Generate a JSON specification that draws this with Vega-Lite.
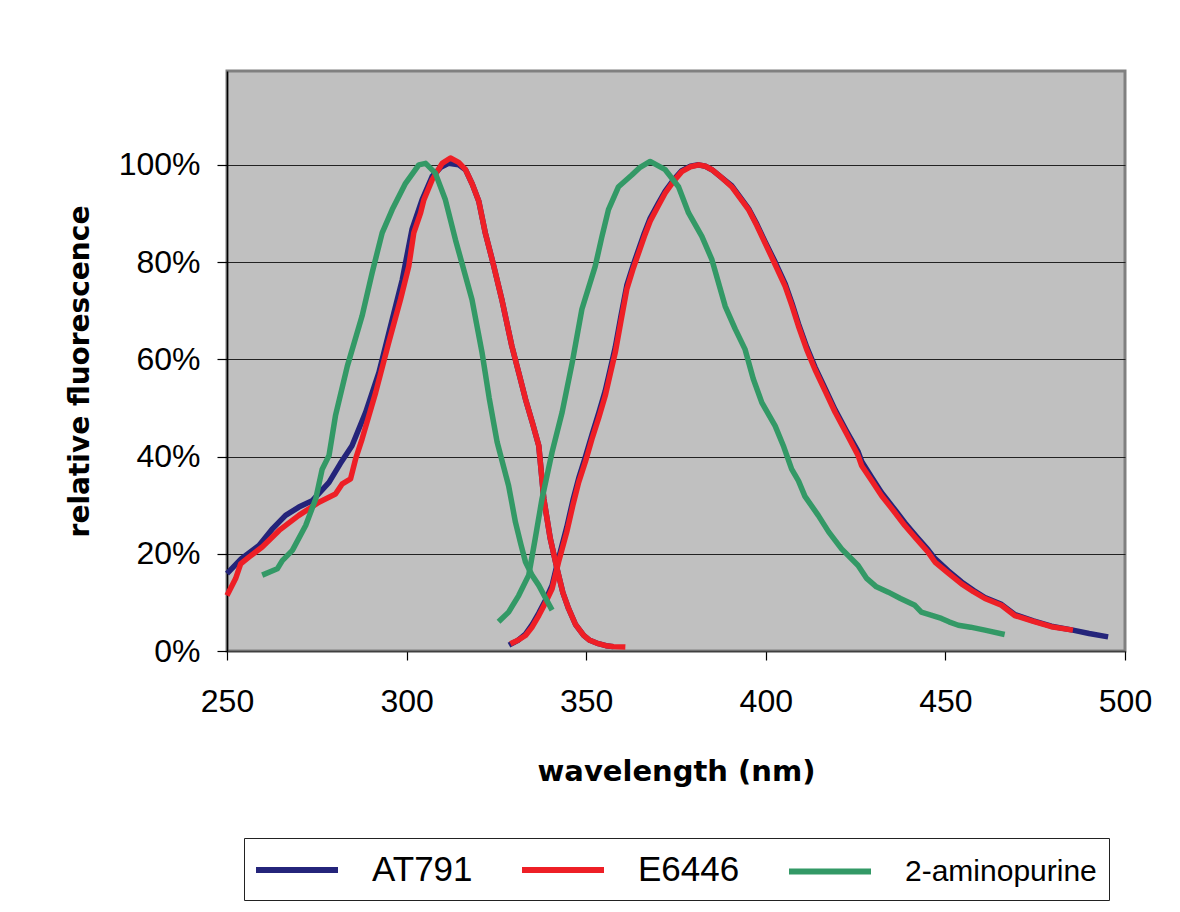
{
  "$schema": "https://vega.github.io/schema/vega-lite/v6.json",
  "autosize": {"type": "none"},
  "padding": {"left": 227, "top": 71, "right": 55, "bottom": 261},
  "width": 898,
  "height": 580,
  "background": "white",
  "config": {
    "view": {"fill": "#c0c0c0", "stroke": "#808080", "strokeWidth": 3},
    "axis": {
      "labelFont": "Liberation Sans",
      "labelFontSize": 32,
      "labelColor": "black",
      "titleFont": "DejaVu Sans",
      "titleFontWeight": "bold",
      "titleFontSize": 28,
      "titleColor": "black",
      "tickColor": "black",
      "domainColor": "black"
    }
  },
  "data": {
    "values": [
      {"s": "AT791", "g": "a", "w": 250, "v": 0.159},
      {"s": "AT791", "g": "a", "w": 254, "v": 0.19},
      {"s": "AT791", "g": "a", "w": 258.9, "v": 0.217},
      {"s": "AT791", "g": "a", "w": 262.5, "v": 0.25},
      {"s": "AT791", "g": "a", "w": 266.3, "v": 0.279},
      {"s": "AT791", "g": "a", "w": 270, "v": 0.296},
      {"s": "AT791", "g": "a", "w": 273.7, "v": 0.309},
      {"s": "AT791", "g": "a", "w": 278.4, "v": 0.347},
      {"s": "AT791", "g": "a", "w": 281.5, "v": 0.385},
      {"s": "AT791", "g": "a", "w": 284.8, "v": 0.422},
      {"s": "AT791", "g": "a", "w": 288.6, "v": 0.491},
      {"s": "AT791", "g": "a", "w": 292.3, "v": 0.573},
      {"s": "AT791", "g": "a", "w": 296, "v": 0.682},
      {"s": "AT791", "g": "a", "w": 298.8, "v": 0.764},
      {"s": "AT791", "g": "a", "w": 301.5, "v": 0.867},
      {"s": "AT791", "g": "a", "w": 304.3, "v": 0.928},
      {"s": "AT791", "g": "a", "w": 307.1, "v": 0.976},
      {"s": "AT791", "g": "a", "w": 309.5, "v": 0.995},
      {"s": "AT791", "g": "a", "w": 311.7, "v": 1.003},
      {"s": "AT791", "g": "a", "w": 314.5, "v": 1.0},
      {"s": "AT791", "g": "a", "w": 316.4, "v": 0.99},
      {"s": "AT791", "g": "a", "w": 318.3, "v": 0.96},
      {"s": "AT791", "g": "a", "w": 320.1, "v": 0.925},
      {"s": "AT791", "g": "a", "w": 321.9, "v": 0.86},
      {"s": "AT791", "g": "a", "w": 324, "v": 0.8},
      {"s": "AT791", "g": "a", "w": 326.6, "v": 0.72},
      {"s": "AT791", "g": "a", "w": 329.3, "v": 0.627},
      {"s": "AT791", "g": "a", "w": 331.2, "v": 0.573},
      {"s": "AT791", "g": "a", "w": 333.1, "v": 0.518},
      {"s": "AT791", "g": "a", "w": 335, "v": 0.47},
      {"s": "AT791", "g": "a", "w": 336.8, "v": 0.422},
      {"s": "AT791", "g": "a", "w": 338.2, "v": 0.313},
      {"s": "AT791", "g": "a", "w": 340, "v": 0.231},
      {"s": "AT791", "g": "a", "w": 341.9, "v": 0.169},
      {"s": "AT791", "g": "a", "w": 343.5, "v": 0.12},
      {"s": "AT791", "g": "a", "w": 345.1, "v": 0.087},
      {"s": "AT791", "g": "a", "w": 347, "v": 0.055},
      {"s": "AT791", "g": "a", "w": 349.3, "v": 0.032},
      {"s": "AT791", "g": "a", "w": 351, "v": 0.022},
      {"s": "AT791", "g": "a", "w": 353.4, "v": 0.015},
      {"s": "AT791", "g": "a", "w": 355.5, "v": 0.011},
      {"s": "AT791", "g": "a", "w": 357.6, "v": 0.009},
      {"s": "AT791", "g": "b", "w": 328.5, "v": 0.012},
      {"s": "AT791", "g": "b", "w": 331, "v": 0.022},
      {"s": "AT791", "g": "b", "w": 333.1, "v": 0.035},
      {"s": "AT791", "g": "b", "w": 335, "v": 0.055},
      {"s": "AT791", "g": "b", "w": 336.8, "v": 0.078},
      {"s": "AT791", "g": "b", "w": 338.7, "v": 0.105},
      {"s": "AT791", "g": "b", "w": 340.5, "v": 0.135},
      {"s": "AT791", "g": "b", "w": 342.3, "v": 0.19},
      {"s": "AT791", "g": "b", "w": 344.6, "v": 0.255},
      {"s": "AT791", "g": "b", "w": 346.3, "v": 0.31},
      {"s": "AT791", "g": "b", "w": 347.9, "v": 0.355},
      {"s": "AT791", "g": "b", "w": 349.8, "v": 0.4},
      {"s": "AT791", "g": "b", "w": 351.6, "v": 0.445},
      {"s": "AT791", "g": "b", "w": 353.5, "v": 0.49},
      {"s": "AT791", "g": "b", "w": 355.3, "v": 0.535},
      {"s": "AT791", "g": "b", "w": 356.7, "v": 0.58},
      {"s": "AT791", "g": "b", "w": 358.1, "v": 0.625},
      {"s": "AT791", "g": "b", "w": 359.7, "v": 0.69},
      {"s": "AT791", "g": "b", "w": 361.3, "v": 0.752},
      {"s": "AT791", "g": "b", "w": 363, "v": 0.792},
      {"s": "AT791", "g": "b", "w": 364.6, "v": 0.826},
      {"s": "AT791", "g": "b", "w": 366.2, "v": 0.86},
      {"s": "AT791", "g": "b", "w": 367.8, "v": 0.89},
      {"s": "AT791", "g": "b", "w": 370, "v": 0.92},
      {"s": "AT791", "g": "b", "w": 372, "v": 0.946},
      {"s": "AT791", "g": "b", "w": 374.3, "v": 0.969},
      {"s": "AT791", "g": "b", "w": 376.6, "v": 0.988},
      {"s": "AT791", "g": "b", "w": 379, "v": 0.997},
      {"s": "AT791", "g": "b", "w": 381.3, "v": 1.0},
      {"s": "AT791", "g": "b", "w": 383.2, "v": 0.997},
      {"s": "AT791", "g": "b", "w": 385, "v": 0.99},
      {"s": "AT791", "g": "b", "w": 387.8, "v": 0.973},
      {"s": "AT791", "g": "b", "w": 390.5, "v": 0.957},
      {"s": "AT791", "g": "b", "w": 392.8, "v": 0.934},
      {"s": "AT791", "g": "b", "w": 395.2, "v": 0.91},
      {"s": "AT791", "g": "b", "w": 397.5, "v": 0.878},
      {"s": "AT791", "g": "b", "w": 399.8, "v": 0.842},
      {"s": "AT791", "g": "b", "w": 402.6, "v": 0.8},
      {"s": "AT791", "g": "b", "w": 405.4, "v": 0.755},
      {"s": "AT791", "g": "b", "w": 407.3, "v": 0.715},
      {"s": "AT791", "g": "b", "w": 409.1, "v": 0.673},
      {"s": "AT791", "g": "b", "w": 411.4, "v": 0.625},
      {"s": "AT791", "g": "b", "w": 413.7, "v": 0.584},
      {"s": "AT791", "g": "b", "w": 416.5, "v": 0.54},
      {"s": "AT791", "g": "b", "w": 419.3, "v": 0.496},
      {"s": "AT791", "g": "b", "w": 422.5, "v": 0.452},
      {"s": "AT791", "g": "b", "w": 425.7, "v": 0.41},
      {"s": "AT791", "g": "b", "w": 426.7, "v": 0.39},
      {"s": "AT791", "g": "b", "w": 429.5, "v": 0.357},
      {"s": "AT791", "g": "b", "w": 432.2, "v": 0.326},
      {"s": "AT791", "g": "b", "w": 435.5, "v": 0.295},
      {"s": "AT791", "g": "b", "w": 438.7, "v": 0.264},
      {"s": "AT791", "g": "b", "w": 442, "v": 0.235},
      {"s": "AT791", "g": "b", "w": 445.2, "v": 0.208},
      {"s": "AT791", "g": "b", "w": 447.1, "v": 0.19},
      {"s": "AT791", "g": "b", "w": 450.8, "v": 0.165},
      {"s": "AT791", "g": "b", "w": 454.5, "v": 0.142},
      {"s": "AT791", "g": "b", "w": 457.8, "v": 0.125},
      {"s": "AT791", "g": "b", "w": 461, "v": 0.11},
      {"s": "AT791", "g": "b", "w": 465.6, "v": 0.096},
      {"s": "AT791", "g": "b", "w": 469.3, "v": 0.075},
      {"s": "AT791", "g": "b", "w": 474.5, "v": 0.062},
      {"s": "AT791", "g": "b", "w": 479.5, "v": 0.051},
      {"s": "AT791", "g": "b", "w": 485.5, "v": 0.043},
      {"s": "AT791", "g": "b", "w": 490, "v": 0.036},
      {"s": "AT791", "g": "b", "w": 495.3, "v": 0.029},

      {"s": "E6446", "g": "a", "w": 250, "v": 0.114},
      {"s": "E6446", "g": "a", "w": 252.4, "v": 0.149},
      {"s": "E6446", "g": "a", "w": 253.8, "v": 0.179},
      {"s": "E6446", "g": "a", "w": 256.1, "v": 0.193},
      {"s": "E6446", "g": "a", "w": 259.8, "v": 0.214},
      {"s": "E6446", "g": "a", "w": 264.5, "v": 0.248},
      {"s": "E6446", "g": "a", "w": 270, "v": 0.279},
      {"s": "E6446", "g": "a", "w": 275.6, "v": 0.306},
      {"s": "E6446", "g": "a", "w": 280.2, "v": 0.323},
      {"s": "E6446", "g": "a", "w": 282.1, "v": 0.344},
      {"s": "E6446", "g": "a", "w": 284.4, "v": 0.354},
      {"s": "E6446", "g": "a", "w": 285.8, "v": 0.395},
      {"s": "E6446", "g": "a", "w": 287.6, "v": 0.436},
      {"s": "E6446", "g": "a", "w": 291.4, "v": 0.532},
      {"s": "E6446", "g": "a", "w": 295, "v": 0.634},
      {"s": "E6446", "g": "a", "w": 298.3, "v": 0.723},
      {"s": "E6446", "g": "a", "w": 300.6, "v": 0.791},
      {"s": "E6446", "g": "a", "w": 302, "v": 0.86},
      {"s": "E6446", "g": "a", "w": 303.9, "v": 0.901},
      {"s": "E6446", "g": "a", "w": 304.8, "v": 0.928},
      {"s": "E6446", "g": "a", "w": 307.1, "v": 0.969},
      {"s": "E6446", "g": "a", "w": 309.9, "v": 1.003},
      {"s": "E6446", "g": "a", "w": 312.2, "v": 1.014},
      {"s": "E6446", "g": "a", "w": 314.5, "v": 1.005},
      {"s": "E6446", "g": "a", "w": 316.4, "v": 0.99},
      {"s": "E6446", "g": "a", "w": 318.3, "v": 0.96},
      {"s": "E6446", "g": "a", "w": 320.1, "v": 0.925},
      {"s": "E6446", "g": "a", "w": 321.9, "v": 0.86},
      {"s": "E6446", "g": "a", "w": 324, "v": 0.8},
      {"s": "E6446", "g": "a", "w": 326.6, "v": 0.72},
      {"s": "E6446", "g": "a", "w": 329.3, "v": 0.627},
      {"s": "E6446", "g": "a", "w": 331.2, "v": 0.573},
      {"s": "E6446", "g": "a", "w": 333.1, "v": 0.518},
      {"s": "E6446", "g": "a", "w": 335, "v": 0.47},
      {"s": "E6446", "g": "a", "w": 336.8, "v": 0.422},
      {"s": "E6446", "g": "a", "w": 338.2, "v": 0.313},
      {"s": "E6446", "g": "a", "w": 340, "v": 0.231},
      {"s": "E6446", "g": "a", "w": 341.9, "v": 0.169},
      {"s": "E6446", "g": "a", "w": 343.5, "v": 0.12},
      {"s": "E6446", "g": "a", "w": 345.1, "v": 0.087},
      {"s": "E6446", "g": "a", "w": 347, "v": 0.055},
      {"s": "E6446", "g": "a", "w": 349.3, "v": 0.032},
      {"s": "E6446", "g": "a", "w": 351, "v": 0.022},
      {"s": "E6446", "g": "a", "w": 353.4, "v": 0.015},
      {"s": "E6446", "g": "a", "w": 355.5, "v": 0.011},
      {"s": "E6446", "g": "a", "w": 357.6, "v": 0.009},
      {"s": "E6446", "g": "a", "w": 360.9, "v": 0.008},
      {"s": "E6446", "g": "b", "w": 328.9, "v": 0.015},
      {"s": "E6446", "g": "b", "w": 331, "v": 0.022},
      {"s": "E6446", "g": "b", "w": 333.1, "v": 0.032},
      {"s": "E6446", "g": "b", "w": 335, "v": 0.05},
      {"s": "E6446", "g": "b", "w": 336.8, "v": 0.073},
      {"s": "E6446", "g": "b", "w": 338.7, "v": 0.1},
      {"s": "E6446", "g": "b", "w": 340.5, "v": 0.128},
      {"s": "E6446", "g": "b", "w": 342.3, "v": 0.183},
      {"s": "E6446", "g": "b", "w": 344.6, "v": 0.245},
      {"s": "E6446", "g": "b", "w": 346.3, "v": 0.3},
      {"s": "E6446", "g": "b", "w": 347.9, "v": 0.347},
      {"s": "E6446", "g": "b", "w": 349.8, "v": 0.39},
      {"s": "E6446", "g": "b", "w": 351.6, "v": 0.436},
      {"s": "E6446", "g": "b", "w": 353.5, "v": 0.48},
      {"s": "E6446", "g": "b", "w": 355.3, "v": 0.525},
      {"s": "E6446", "g": "b", "w": 356.7, "v": 0.57},
      {"s": "E6446", "g": "b", "w": 358.1, "v": 0.614},
      {"s": "E6446", "g": "b", "w": 359.7, "v": 0.68},
      {"s": "E6446", "g": "b", "w": 361.3, "v": 0.744},
      {"s": "E6446", "g": "b", "w": 363, "v": 0.785},
      {"s": "E6446", "g": "b", "w": 364.6, "v": 0.819},
      {"s": "E6446", "g": "b", "w": 366.2, "v": 0.853},
      {"s": "E6446", "g": "b", "w": 367.8, "v": 0.884},
      {"s": "E6446", "g": "b", "w": 370, "v": 0.915},
      {"s": "E6446", "g": "b", "w": 372, "v": 0.942},
      {"s": "E6446", "g": "b", "w": 374.3, "v": 0.966},
      {"s": "E6446", "g": "b", "w": 376.6, "v": 0.986},
      {"s": "E6446", "g": "b", "w": 379, "v": 0.996},
      {"s": "E6446", "g": "b", "w": 381.3, "v": 1.0},
      {"s": "E6446", "g": "b", "w": 383.2, "v": 0.997},
      {"s": "E6446", "g": "b", "w": 385, "v": 0.99},
      {"s": "E6446", "g": "b", "w": 387.8, "v": 0.973},
      {"s": "E6446", "g": "b", "w": 390.5, "v": 0.955},
      {"s": "E6446", "g": "b", "w": 392.8, "v": 0.932},
      {"s": "E6446", "g": "b", "w": 395.2, "v": 0.908},
      {"s": "E6446", "g": "b", "w": 397.5, "v": 0.875},
      {"s": "E6446", "g": "b", "w": 399.8, "v": 0.839},
      {"s": "E6446", "g": "b", "w": 402.6, "v": 0.795},
      {"s": "E6446", "g": "b", "w": 405.4, "v": 0.75},
      {"s": "E6446", "g": "b", "w": 407.3, "v": 0.71},
      {"s": "E6446", "g": "b", "w": 409.1, "v": 0.668},
      {"s": "E6446", "g": "b", "w": 411.4, "v": 0.62},
      {"s": "E6446", "g": "b", "w": 413.7, "v": 0.579},
      {"s": "E6446", "g": "b", "w": 416.5, "v": 0.535},
      {"s": "E6446", "g": "b", "w": 419.3, "v": 0.491},
      {"s": "E6446", "g": "b", "w": 422.5, "v": 0.447},
      {"s": "E6446", "g": "b", "w": 425.7, "v": 0.402},
      {"s": "E6446", "g": "b", "w": 426.7, "v": 0.381},
      {"s": "E6446", "g": "b", "w": 429.5, "v": 0.35},
      {"s": "E6446", "g": "b", "w": 432.2, "v": 0.32},
      {"s": "E6446", "g": "b", "w": 435.5, "v": 0.289},
      {"s": "E6446", "g": "b", "w": 438.7, "v": 0.258},
      {"s": "E6446", "g": "b", "w": 442, "v": 0.23},
      {"s": "E6446", "g": "b", "w": 445.2, "v": 0.203},
      {"s": "E6446", "g": "b", "w": 447.1, "v": 0.183},
      {"s": "E6446", "g": "b", "w": 450.8, "v": 0.16},
      {"s": "E6446", "g": "b", "w": 454.5, "v": 0.138},
      {"s": "E6446", "g": "b", "w": 457.8, "v": 0.122},
      {"s": "E6446", "g": "b", "w": 461, "v": 0.108},
      {"s": "E6446", "g": "b", "w": 465.6, "v": 0.094},
      {"s": "E6446", "g": "b", "w": 469.3, "v": 0.073},
      {"s": "E6446", "g": "b", "w": 474.5, "v": 0.061},
      {"s": "E6446", "g": "b", "w": 479.5, "v": 0.05},
      {"s": "E6446", "g": "b", "w": 485.5, "v": 0.043},

      {"s": "2-aminopurine", "g": "a", "w": 259.8, "v": 0.156},
      {"s": "2-aminopurine", "g": "a", "w": 264, "v": 0.169},
      {"s": "2-aminopurine", "g": "a", "w": 265.4, "v": 0.186},
      {"s": "2-aminopurine", "g": "a", "w": 268.2, "v": 0.207},
      {"s": "2-aminopurine", "g": "a", "w": 271.9, "v": 0.258},
      {"s": "2-aminopurine", "g": "a", "w": 274.7, "v": 0.313},
      {"s": "2-aminopurine", "g": "a", "w": 276.5, "v": 0.374},
      {"s": "2-aminopurine", "g": "a", "w": 278.4, "v": 0.402},
      {"s": "2-aminopurine", "g": "a", "w": 280.2, "v": 0.484},
      {"s": "2-aminopurine", "g": "a", "w": 283.5, "v": 0.586},
      {"s": "2-aminopurine", "g": "a", "w": 287.6, "v": 0.689},
      {"s": "2-aminopurine", "g": "a", "w": 290.4, "v": 0.778},
      {"s": "2-aminopurine", "g": "a", "w": 293.2, "v": 0.86},
      {"s": "2-aminopurine", "g": "a", "w": 296, "v": 0.908},
      {"s": "2-aminopurine", "g": "a", "w": 299.7, "v": 0.962},
      {"s": "2-aminopurine", "g": "a", "w": 303.4, "v": 1.0},
      {"s": "2-aminopurine", "g": "a", "w": 305.3, "v": 1.003},
      {"s": "2-aminopurine", "g": "a", "w": 308, "v": 0.983},
      {"s": "2-aminopurine", "g": "a", "w": 310.8, "v": 0.928},
      {"s": "2-aminopurine", "g": "a", "w": 313.6, "v": 0.846},
      {"s": "2-aminopurine", "g": "a", "w": 318.2, "v": 0.723},
      {"s": "2-aminopurine", "g": "a", "w": 321, "v": 0.614},
      {"s": "2-aminopurine", "g": "a", "w": 323, "v": 0.52},
      {"s": "2-aminopurine", "g": "a", "w": 325.2, "v": 0.43},
      {"s": "2-aminopurine", "g": "a", "w": 328.4, "v": 0.34},
      {"s": "2-aminopurine", "g": "a", "w": 330.3, "v": 0.265},
      {"s": "2-aminopurine", "g": "a", "w": 331.8, "v": 0.22},
      {"s": "2-aminopurine", "g": "a", "w": 333.1, "v": 0.183},
      {"s": "2-aminopurine", "g": "a", "w": 335, "v": 0.155},
      {"s": "2-aminopurine", "g": "a", "w": 336.8, "v": 0.135},
      {"s": "2-aminopurine", "g": "a", "w": 338.6, "v": 0.11},
      {"s": "2-aminopurine", "g": "a", "w": 340.5, "v": 0.084},
      {"s": "2-aminopurine", "g": "b", "w": 325.6, "v": 0.06},
      {"s": "2-aminopurine", "g": "b", "w": 328.4, "v": 0.08},
      {"s": "2-aminopurine", "g": "b", "w": 331.2, "v": 0.114},
      {"s": "2-aminopurine", "g": "b", "w": 334, "v": 0.156},
      {"s": "2-aminopurine", "g": "b", "w": 335.8, "v": 0.231},
      {"s": "2-aminopurine", "g": "b", "w": 337.7, "v": 0.313},
      {"s": "2-aminopurine", "g": "b", "w": 340.5, "v": 0.409},
      {"s": "2-aminopurine", "g": "b", "w": 343.3, "v": 0.491},
      {"s": "2-aminopurine", "g": "b", "w": 346.1, "v": 0.593},
      {"s": "2-aminopurine", "g": "b", "w": 348.8, "v": 0.703},
      {"s": "2-aminopurine", "g": "b", "w": 352.5, "v": 0.791},
      {"s": "2-aminopurine", "g": "b", "w": 354.3, "v": 0.85},
      {"s": "2-aminopurine", "g": "b", "w": 356.2, "v": 0.908},
      {"s": "2-aminopurine", "g": "b", "w": 359, "v": 0.955},
      {"s": "2-aminopurine", "g": "b", "w": 362.7, "v": 0.979},
      {"s": "2-aminopurine", "g": "b", "w": 365, "v": 0.995},
      {"s": "2-aminopurine", "g": "b", "w": 367.8, "v": 1.007},
      {"s": "2-aminopurine", "g": "b", "w": 372, "v": 0.99},
      {"s": "2-aminopurine", "g": "b", "w": 375.7, "v": 0.955},
      {"s": "2-aminopurine", "g": "b", "w": 378.5, "v": 0.901},
      {"s": "2-aminopurine", "g": "b", "w": 382.2, "v": 0.853},
      {"s": "2-aminopurine", "g": "b", "w": 385, "v": 0.805},
      {"s": "2-aminopurine", "g": "b", "w": 388.7, "v": 0.709},
      {"s": "2-aminopurine", "g": "b", "w": 391.5, "v": 0.662},
      {"s": "2-aminopurine", "g": "b", "w": 394.2, "v": 0.621},
      {"s": "2-aminopurine", "g": "b", "w": 396.5, "v": 0.56},
      {"s": "2-aminopurine", "g": "b", "w": 398.9, "v": 0.511},
      {"s": "2-aminopurine", "g": "b", "w": 402.6, "v": 0.463},
      {"s": "2-aminopurine", "g": "b", "w": 405, "v": 0.42},
      {"s": "2-aminopurine", "g": "b", "w": 407.2, "v": 0.374},
      {"s": "2-aminopurine", "g": "b", "w": 409.1, "v": 0.35},
      {"s": "2-aminopurine", "g": "b", "w": 410.9, "v": 0.318},
      {"s": "2-aminopurine", "g": "b", "w": 414.6, "v": 0.279},
      {"s": "2-aminopurine", "g": "b", "w": 417.5, "v": 0.245},
      {"s": "2-aminopurine", "g": "b", "w": 421.1, "v": 0.21},
      {"s": "2-aminopurine", "g": "b", "w": 425.7, "v": 0.176},
      {"s": "2-aminopurine", "g": "b", "w": 428, "v": 0.15},
      {"s": "2-aminopurine", "g": "b", "w": 430.8, "v": 0.132},
      {"s": "2-aminopurine", "g": "b", "w": 434.1, "v": 0.121},
      {"s": "2-aminopurine", "g": "b", "w": 437.5, "v": 0.108},
      {"s": "2-aminopurine", "g": "b", "w": 441.5, "v": 0.094},
      {"s": "2-aminopurine", "g": "b", "w": 443.3, "v": 0.08},
      {"s": "2-aminopurine", "g": "b", "w": 446, "v": 0.074},
      {"s": "2-aminopurine", "g": "b", "w": 448.9, "v": 0.067},
      {"s": "2-aminopurine", "g": "b", "w": 451, "v": 0.06},
      {"s": "2-aminopurine", "g": "b", "w": 453.6, "v": 0.053},
      {"s": "2-aminopurine", "g": "b", "w": 457, "v": 0.049},
      {"s": "2-aminopurine", "g": "b", "w": 461, "v": 0.043},
      {"s": "2-aminopurine", "g": "b", "w": 466.5, "v": 0.034}
    ]
  },
  "mark": {"type": "line", "strokeWidth": 5.5, "strokeJoin": "round", "strokeCap": "butt"},
  "encoding": {
    "x": {
      "field": "w",
      "type": "quantitative",
      "scale": {"domain": [250, 500], "nice": false, "zero": false},
      "axis": {
        "values": [250, 300, 350, 400, 450, 500],
        "grid": false,
        "labelFlush": false,
        "tickSize": 9,
        "tickWidth": 1.2,
        "labelPadding": 26,
        "domainWidth": 1.5,
        "domainColor": "#404040",
        "title": "wavelength (nm)",
        "titleFontSize": 29,
        "titleY": 106
      }
    },
    "y": {
      "field": "v",
      "type": "quantitative",
      "scale": {"domain": [0, 1.193], "nice": false},
      "axis": {
        "values": [0, 0.2, 0.4, 0.6, 0.8, 1.0],
        "format": ".0%",
        "grid": true,
        "gridColor": "#222222",
        "gridWidth": 1.2,
        "tickSize": 10,
        "tickWidth": 1.2,
        "labelPadding": 17,
        "domainWidth": 1.5,
        "title": "relative fluorescence",
        "titleX": -133,
        "titleY": 300
      }
    },
    "color": {
      "field": "s",
      "type": "nominal",
      "scale": {
        "domain": ["AT791", "E6446", "2-aminopurine"],
        "range": ["#24247a", "#ee1f26", "#339966"]
      },
      "legend": {
        "title": null,
        "orient": "none",
        "legendX": 17,
        "legendY": 767,
        "direction": "horizontal",
        "symbolType": "M-1.176,0H3.647",
        "symbolSize": 1156,
        "symbolStrokeWidth": 6,
        "labelFont": "Liberation Sans",
        "labelFontSize": 32,
        "labelColor": "black",
        "labelOffset": 76,
        "labelLimit": 400,
        "columnPadding": 37,
        "padding": 12,
        "strokeColor": "#222222",
        "fillColor": "white",
        "encode": {
          "labels": {
            "update": {
              "fontSize": {"signal": "datum.label === '2-aminopurine' ? 30 : 35"}
            }
          }
        }
      }
    },
    "detail": {"field": "g", "type": "nominal"}
  }
}
